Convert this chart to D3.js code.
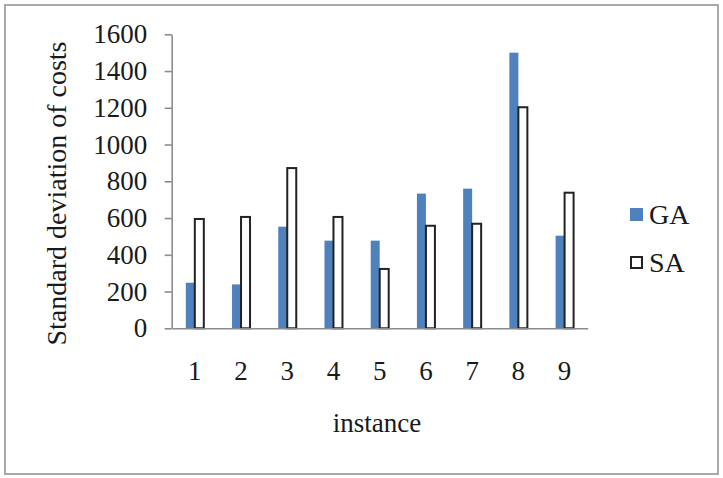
<!DOCTYPE html>
<html>
<head>
<meta charset="utf-8">
<script src="https://cdn.jsdelivr.net/npm/d3@7"></script>
<style>
  body { margin: 0; background: #fff; }
  svg { display: block; }
  text { font-family: "Liberation Serif", "Times New Roman", serif; fill: #1a1a1a; }
</style>
</head>
<body>
<script>
// data
var instances = ["1", "2", "3", "4", "5", "6", "7", "8", "9"];
var seriesNames = ["GA", "SA"];
var gaValues = [248, 239, 553, 477, 477, 733, 760, 1500, 504];
var saValues = [595, 606, 872, 606, 323, 558, 569, 1203, 738];
var yTicks = [0, 200, 400, 600, 800, 1000, 1200, 1400, 1600];

var width = 723, height = 478;
var plot = {left: 171.7, right: 587.7, top: 34.3, bottom: 328.3};
var barW = 9;

var svg = d3.select("body").append("svg")
    .attr("width", width)
    .attr("height", height)
    .attr("font-family", "Liberation Serif, Times New Roman, serif");

// outer frame
svg.append("rect")
    .attr("x", 5).attr("y", 5)
    .attr("width", 713).attr("height", 469)
    .attr("fill", "#fff")
    .attr("stroke", "#a9a9a9")
    .attr("stroke-width", 2);

var x0 = d3.scaleBand().domain(instances).range([plot.left, plot.right]).padding(0);
var x1 = d3.scaleBand().domain(seriesNames)
    .range([x0.bandwidth() / 2 - barW, x0.bandwidth() / 2 + barW]);
var y = d3.scaleLinear().domain([0, 1600]).range([plot.bottom, plot.top]);

var rows = instances.map(function(d, i) {
  return {inst: d, values: [{key: "GA", v: gaValues[i]}, {key: "SA", v: saValues[i]}]};
});

// bars
var groups = svg.append("g").selectAll("g")
    .data(rows)
  .enter().append("g")
    .attr("transform", function(d) { return "translate(" + x0(d.inst) + ",0)"; });

groups.selectAll("rect")
    .data(function(d) { return d.values; })
  .enter().append("rect")
    .attr("x", function(d) { return x1(d.key); })
    .attr("y", function(d) { return y(d.v); })
    .attr("width", x1.bandwidth())
    .attr("height", function(d) { return plot.bottom - y(d.v); })
    .attr("fill", function(d) { return d.key == "GA" ? "#4f81bd" : "#fff"; })
    .attr("stroke", function(d) { return d.key == "GA" ? "none" : "#222"; })
    .attr("stroke-width", 2);

// y axis
var yAxis = svg.append("g")
    .attr("transform", "translate(" + plot.left + ",0)")
    .call(d3.axisLeft(y).tickValues(yTicks).tickFormat(d3.format("d"))
      .tickSize(7).tickSizeOuter(0).tickPadding(17.5));
yAxis.attr("font-family", null);
yAxis.selectAll("text").style("font-size", "27px");

// x axis
var xAxis = svg.append("g")
    .attr("transform", "translate(0," + plot.bottom + ")")
    .call(d3.axisBottom(x0).tickSize(0).tickSizeOuter(0).tickPadding(33));
xAxis.attr("font-family", null);
xAxis.selectAll("text").style("font-size", "27px");

svg.selectAll(".domain, .tick line").attr("stroke", "#8c8c8c").attr("stroke-width", 1.6);

// axis titles
svg.append("text")
    .attr("transform", "translate(66,193.5) rotate(-90)")
    .attr("text-anchor", "middle")
    .style("font-size", "28px")
    .text("Standard deviation of costs");

svg.append("text")
    .attr("x", 377).attr("y", 431.5)
    .attr("text-anchor", "middle")
    .style("font-size", "27px")
    .text("instance");

// legend
var legend = svg.append("g").selectAll("g")
    .data(seriesNames)
  .enter().append("g")
    .attr("transform", function(d, i) { return "translate(630," + (208 + i * 48) + ")"; });

legend.append("rect")
    .attr("x", function(d) { return d == "GA" ? 0 : 1; })
    .attr("y", function(d) { return d == "GA" ? 0 : 1; })
    .attr("width", function(d) { return d == "GA" ? 13 : 11; })
    .attr("height", function(d) { return d == "GA" ? 13 : 11; })
    .attr("fill", function(d) { return d == "GA" ? "#4f81bd" : "#fff"; })
    .attr("stroke", function(d) { return d == "GA" ? "none" : "#222"; })
    .attr("stroke-width", 2);

legend.append("text")
    .attr("x", 19).attr("y", 16)
    .style("font-size", "28px")
    .text(function(d) { return d; });
</script>
</body>
</html>
